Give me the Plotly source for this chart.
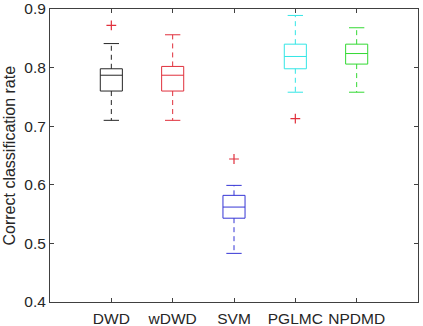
import plotly.graph_objects as go

# Box statistics
methods = ["DWD", "wDWD", "SVM", "PGLMC", "NPDMD"]
positions = [1, 2, 3, 4, 5]
lower_whisker = [0.710, 0.710, 0.483, 0.758, 0.758]
q1_values = [0.760, 0.760, 0.543, 0.798, 0.806]
medians = [0.787, 0.787, 0.562, 0.819, 0.824]
q3_values = [0.798, 0.802, 0.582, 0.840, 0.840]
upper_whisker = [0.841, 0.856, 0.599, 0.889, 0.868]
outlier_x = [1, 3, 4]
outlier_y = [0.872, 0.644, 0.713]

colors = ["#262626", "#e0303c", "#3535d5", "#33e6e6", "#33d933"]
box_width = 0.36
cap_half = 0.125
font_family = "Liberation Sans, Arial"

fig = go.Figure()

for p, lw, q1, med, q3, uw, c in zip(positions, lower_whisker, q1_values,
                                      medians, q3_values, upper_whisker, colors):
    # box and median
    fig.add_trace(go.Box(
        x=[p], q1=[q1], median=[med], q3=[q3],
        lowerfence=[q1], upperfence=[q3],
        width=box_width, whiskerwidth=0,
        fillcolor="rgba(0,0,0,0)",
        line=dict(color=c, width=1),
        boxpoints=False, showlegend=False, hoverinfo="skip",
    ))
    # dashed whiskers
    fig.add_trace(go.Scatter(
        x=[p, p, None, p, p], y=[q3, uw, None, q1, lw],
        mode="lines", line=dict(color=c, width=1, dash="5px,4px"),
        showlegend=False, hoverinfo="skip",
    ))
    # whisker caps
    fig.add_trace(go.Scatter(
        x=[p - cap_half, p + cap_half, None, p - cap_half, p + cap_half],
        y=[uw, uw, None, lw, lw],
        mode="lines", line=dict(color=c, width=1),
        showlegend=False, hoverinfo="skip",
    ))

# outliers
fig.add_trace(go.Scatter(
    x=outlier_x, y=outlier_y, mode="markers",
    marker=dict(symbol="cross-thin", size=7, line=dict(color="#e0303c", width=1.2)),
    showlegend=False, hoverinfo="skip",
))

axis_common = dict(
    showline=True, linecolor="#404040", linewidth=1, mirror="allticks",
    ticks="inside", ticklen=4, tickcolor="#404040", showgrid=False,
    zeroline=False, automargin=False,
    tickfont=dict(family=font_family, size=15.5, color="#262626"),
)

fig.update_layout(
    width=423, height=326,
    margin=dict(l=50, r=5, t=9, b=24),
    paper_bgcolor="white", plot_bgcolor="white",
    xaxis=dict(range=[0, 6], tickvals=positions, ticktext=methods,
               ticklabelstandoff=2, **axis_common),
    yaxis=dict(range=[0.4, 0.9], dtick=0.1, tick0=0.4, **axis_common),
)

# y-axis title placed as an annotation to sit close to the left edge
fig.add_annotation(
    text="Correct classification rate", textangle=-90,
    xref="paper", yref="paper", x=0, y=0.5, xanchor="center", yanchor="middle",
    xshift=-41, showarrow=False,
    font=dict(family=font_family, size=16, color="#262626"),
)

# drop the default page margin so the figure sits at the window's corner
fig.write_html("out.html", config={"displayModeBar": False},
               post_script="document.body.style.margin='0';")
